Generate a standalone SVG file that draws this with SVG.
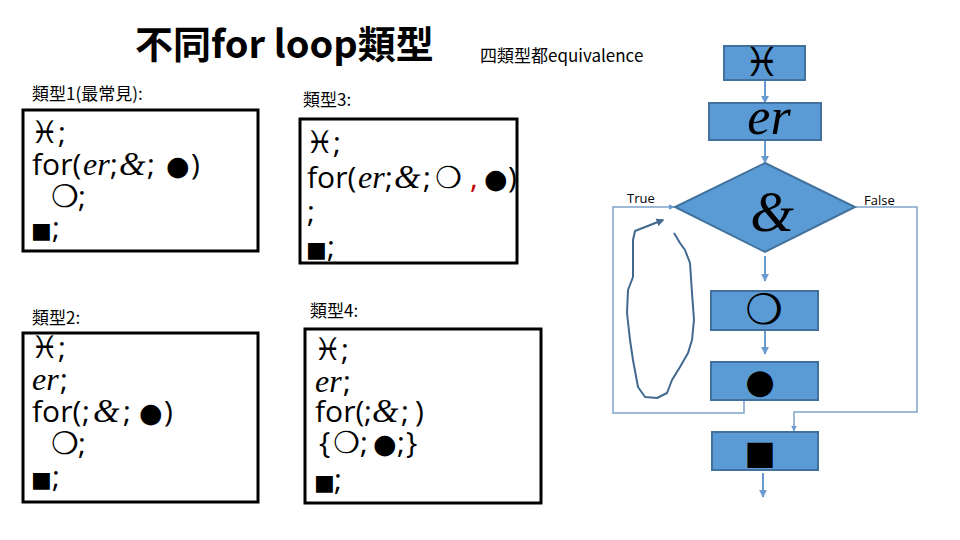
<svg xmlns="http://www.w3.org/2000/svg" width="960" height="540" viewBox="0 0 960 540">
<style>
.cjk{font-family:"Noto Sans CJK TC","Noto Sans CJK SC",sans-serif;fill:#000}
.c{font-family:"Open Sans","Liberation Sans",sans-serif;font-size:30px;fill:#000}
.s{font-family:"Liberation Serif",serif;font-style:italic}
.w{font-family:"DejaVu Sans",sans-serif}
.box{fill:#fff;stroke:#000;stroke-width:3}
.fc{fill:#5B9BD5;stroke:#41719C;stroke-width:2}
.ar{fill:none;stroke:#6A9BD0;stroke-width:2}
.ln{fill:none;stroke:#7FA3C8;stroke-width:1.5}
.lbl{font-family:"Open Sans","Liberation Sans",sans-serif;font-size:13px;fill:#000}
</style>
<defs>
<marker id="ah" viewBox="0 0 10 10" refX="9" refY="5" markerWidth="4" markerHeight="4" orient="auto"><path d="M0,0 L10,5 L0,10 z" fill="#6A9BD0"/></marker>
<marker id="ink" viewBox="0 0 10 10" refX="8" refY="5" markerWidth="4" markerHeight="4" orient="auto"><path d="M0,0 L10,5 L0,10 z" fill="#41698F"/></marker>
</defs>
<rect width="960" height="540" fill="#fff"/>

<g id="title">
<text class="cjk" x="135" y="58" font-size="38" font-weight="bold">不同for loop類型</text>
<text class="cjk" x="480" y="62" font-size="17">四類型都equivalence</text>
</g>

<g id="type1">
<text class="cjk" x="32" y="100" font-size="17">類型1(最常見):</text>
<rect class="box" x="23" y="110" width="235" height="141"/>
<text class="c" y="143"><tspan class="w" x="31" font-size="31">♓</tspan><tspan x="58">;</tspan></text>
<text class="c" y="175"><tspan x="32">for(</tspan><tspan class="s" x="83" font-size="32">er</tspan><tspan x="110">;</tspan><tspan class="s" x="119" font-size="34">&amp;</tspan><tspan x="147">;</tspan><tspan class="w" x="166" font-size="27">●</tspan><tspan x="191">)</tspan></text>
<text class="c" y="207"><tspan class="w" x="51" font-size="31">❍</tspan><tspan x="78">;</tspan></text>
<text class="c" y="238"><tspan class="w" x="31" font-size="22">■</tspan><tspan x="52">;</tspan></text>
</g>

<g id="type3">
<text class="cjk" x="303" y="106" font-size="17">類型3:</text>
<rect class="box" x="300" y="119" width="217" height="144"/>
<text class="c" y="153"><tspan class="w" x="306" font-size="31">♓</tspan><tspan x="333">;</tspan></text>
<text class="c" y="188"><tspan x="307">for(</tspan><tspan class="s" x="358" font-size="32">er</tspan><tspan x="385">;</tspan><tspan class="s" x="394" font-size="34">&amp;</tspan><tspan x="423">;</tspan><tspan class="w" x="435" font-size="30">❍</tspan><tspan x="470" fill="#C00000">,</tspan><tspan class="w" x="484" font-size="27">●</tspan><tspan x="508">)</tspan></text>
<text class="c" x="307" y="222">;</text>
<text class="c" y="257"><tspan class="w" x="306" font-size="22">■</tspan><tspan x="327">;</tspan></text>
</g>

<g id="type2">
<text class="cjk" x="32" y="324" font-size="17">類型2:</text>
<rect class="box" x="23" y="333" width="235" height="169"/>
<text class="c" y="358"><tspan class="w" x="31" font-size="31">♓</tspan><tspan x="58">;</tspan></text>
<text class="c" y="390"><tspan class="s" x="32" font-size="32">er</tspan><tspan x="60">;</tspan></text>
<text class="c" y="422"><tspan x="32">for(</tspan><tspan x="82">;</tspan><tspan class="s" x="93" font-size="34">&amp;</tspan><tspan x="123">;</tspan><tspan class="w" x="139" font-size="27">●</tspan><tspan x="164">)</tspan></text>
<text class="c" y="454"><tspan class="w" x="51" font-size="31">❍</tspan><tspan x="78">;</tspan></text>
<text class="c" y="487"><tspan class="w" x="31" font-size="22">■</tspan><tspan x="52">;</tspan></text>
</g>

<g id="type4">
<text class="cjk" x="310" y="317" font-size="17">類型4:</text>
<rect class="box" x="305" y="329" width="236" height="174"/>
<text class="c" y="360"><tspan class="w" x="314" font-size="31">♓</tspan><tspan x="341">;</tspan></text>
<text class="c" y="392"><tspan class="s" x="315" font-size="32">er</tspan><tspan x="343">;</tspan></text>
<text class="c" y="422"><tspan x="315">for(</tspan><tspan x="364">;</tspan><tspan class="s" x="372" font-size="34">&amp;</tspan><tspan x="401">;</tspan><tspan x="415">)</tspan></text>
<text class="c" y="453"><tspan x="319">{</tspan><tspan class="w" x="333" font-size="30">❍</tspan><tspan x="360">;</tspan><tspan class="w" x="373" font-size="27">●</tspan><tspan x="397">;</tspan><tspan x="406">}</tspan></text>
<text class="c" y="490"><tspan class="w" x="314" font-size="22">■</tspan><tspan x="334">;</tspan></text>
</g>

<g id="connectors">
<line class="ar" x1="765" y1="81" x2="765" y2="103" marker-end="url(#ah)"/>
<line class="ar" x1="765" y1="141" x2="765" y2="163" marker-end="url(#ah)"/>
<line class="ar" x1="765" y1="256" x2="765" y2="281" marker-end="url(#ah)"/>
<line class="ar" x1="765" y1="331" x2="765" y2="354" marker-end="url(#ah)"/>
<polyline class="ln" points="744,401 744,413 613,413 613,207 674,207" marker-end="url(#ah)"/>
<polyline class="ln" points="855,207 917,207 917,412 794,412 794,431" marker-end="url(#ah)"/>
<line class="ar" x1="763" y1="473" x2="763" y2="497" marker-end="url(#ah)"/>
<text class="lbl" x="627" y="203">True</text>
<text class="lbl" x="864" y="205">False</text>
</g>

<g id="fc_init">
<rect class="fc" x="724" y="46" width="81" height="34"/>
<text class="w" x="762" y="76" font-size="40" text-anchor="middle">♓</text>
</g>
<g id="fc_er">
<rect class="fc" x="709" y="103" width="112" height="37"/>
<text class="s" x="769" y="134" font-size="52" text-anchor="middle">er</text>
</g>
<g id="fc_cond">
<polygon class="fc" points="765,163 855,207 765,252 675,207"/>
<text class="s" x="772" y="231" font-size="56" text-anchor="middle">&amp;</text>
</g>
<g id="fc_body">
<rect class="fc" x="711" y="291" width="107" height="39"/>
<text class="w" x="764" y="324" font-size="42" text-anchor="middle">❍</text>
</g>
<g id="fc_inc">
<rect class="fc" x="711" y="362" width="107" height="38"/>
<text class="w" x="760" y="393" font-size="34" text-anchor="middle">●</text>
</g>
<g id="fc_end">
<rect class="fc" x="712" y="432" width="106" height="38"/>
<text class="w" x="760" y="464" font-size="33" text-anchor="middle">■</text>
</g>

<g id="ink">
<path d="M674,233 L680,243 L685,250 L690,263 L692,293 L694,320 L692,340 L688,353 L680,367 L672,380 L667,393 L657,398 L645,397 L638,387 L633,360 L630,340 L627,313 L628,290 L633,277 L633,240 L635,231 L663,220" fill="none" stroke="#41698F" stroke-width="2" stroke-linejoin="round" marker-end="url(#ink)"/>
</g>
</svg>
